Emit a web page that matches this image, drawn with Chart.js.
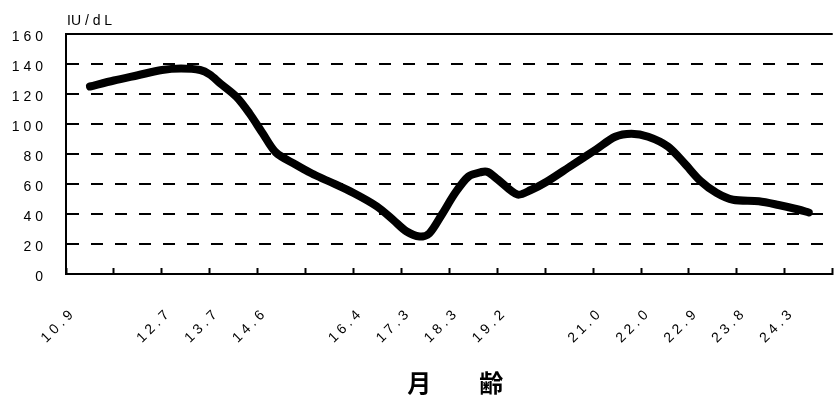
<!DOCTYPE html>
<html>
<head>
<meta charset="utf-8">
<script src="https://cdn.jsdelivr.net/npm/chart.js@4.4.1/dist/chart.umd.min.js"></script>
<style>
  html, body { margin: 0; padding: 0; overflow: hidden; background: #fff; }
  /* a bit wider than the window: the right end of the plot is cut off like in the original */
  .chart-box { position: relative; width: 860px; height: 397px; }
</style>
</head>
<body>
<div class="chart-box"><canvas id="iu-chart"></canvas></div>
<script>
// month-age slots on the x axis, blank slots carry no label
const monthLabels = ['10.9', '', '12.7', '13.7', '14.6', '', '16.4', '17.3', '18.3', '19.2', '', '21.0', '22.0', '22.9', '23.8', '24.3'];

// where each reading sits along the axis, in slot units (0.5 = middle of the first slot)
const slotPos = [0.5, 1.0, 1.5, 2.0, 2.4, 2.8, 3.0, 3.22, 3.56, 3.83,
                 4.1, 4.38, 4.79, 5.13, 5.47, 6.0, 6.49, 6.83, 7.1, 7.38,
                 7.58, 7.85, 8.12, 8.4, 8.67, 8.8, 9.01, 9.42, 9.7, 10.03,
                 10.51, 11.06, 11.46, 11.8, 12.15, 12.56, 12.9, 13.24, 13.58, 13.92,
                 14.46, 14.87, 15.28, 15.5];
const iuValues = [125, 129, 132.5, 136, 137, 136, 133, 127, 118, 107,
                  94, 81, 73, 67, 62, 54, 45, 36, 28.5, 25,
                  27, 40, 54, 65, 68, 68, 63, 53, 56, 61.5,
                  71.5, 83, 91.5, 93.5, 91.5, 85, 74, 62, 54, 49.5,
                  48.5, 46, 43, 41];

const yTicks = [0, 20, 40, 60, 80, 100, 120, 140, 160];

const UNIT_LABEL = 'IU / d L';
const AXIS_TITLE = '\u2002月　　齢';

//the original uses wide character spacing on the numbers
const spaced = s => String(s).split('').join(' ');

Chart.defaults.font.family = '"Liberation Sans", Arial, sans-serif';
Chart.defaults.color = '#000';

//unit text above the y axis
const unitLabel = {
    id: 'unitLabel',
    afterDraw(chart) {
        const ctx = chart.ctx;
        ctx.save();
        ctx.font = '14px "Liberation Sans", Arial, sans-serif';
        ctx.fillStyle = '#000';
        ctx.textBaseline = 'alphabetic';
        ctx.fillText(UNIT_LABEL, chart.chartArea.left + 1, 25);
        ctx.restore();
    }
};

const ctx = document.getElementById('iu-chart').getContext('2d');
const chart = new Chart(ctx, {
    type: 'line',
    data: {
        labels: monthLabels,
        datasets: [{
            data: slotPos.map((x, i) => ({ x: x, y: iuValues[i] })),
            xAxisID: 'xv',
            yAxisID: 'y',
            borderColor: '#000',
            borderWidth: 8,
            pointRadius: 0,
            tension: 0.3,
            borderCapStyle: 'round',
            borderJoinStyle: 'round',
            fill: false
        }]
    },
    options: {
        responsive: true,
        maintainAspectRatio: false,
        animation: false,
        layout: { padding: { left: 0, right: 11, top: 34, bottom: 0 } },
        plugins: {
            legend: { display: false },
            tooltip: { enabled: false }
        },
        scales: {
            x: {
                type: 'category',
                position: 'bottom',
                offset: true,
                grid: {
                    offset: true,
                    drawOnChartArea: false,
                    drawTicks: true,
                    tickLength: -6,   // tick marks point up into the plot
                    tickWidth: 2,
                    tickColor: '#000'
                },
                border: { display: true, color: '#000', width: 2 },
                ticks: {
                    autoSkip: false,
                    minRotation: 45,
                    maxRotation: 45,
                    padding: 39,
                    labelOffset: -19,
                    color: '#000',
                    font: { size: 14 },
                    callback: function (value) {
                        return spaced(this.getLabelForValue(value));
                    }
                },
                title: {
                    display: true,
                    text: AXIS_TITLE,
                    color: '#000',
                    font: { family: '"Noto Sans CJK JP", sans-serif', size: 24, weight: 'bold' },
                    padding: { top: 0, bottom: 0 }
                },
                afterFit: scale => { scale.height = 123; }
            },
            // hidden axis that places the readings inside the slots
            xv: {
                type: 'linear',
                display: false,
                min: 0,
                max: monthLabels.length
            },
            y: {
                min: 0,
                max: 160,
                afterBuildTicks: axis => { axis.ticks = yTicks.map(v => ({ value: v })); },
                grid: { color: '#000', lineWidth: 2, drawTicks: false },
                border: {
                    display: true,
                    color: '#000',
                    width: 2,
                    //top line is solid, the rest dashed
                    dash: c => (c.tick && c.tick.value !== 160) ? [12, 12] : []
                },
                ticks: {
                    padding: 23,
                    labelOffset: 3,
                    color: '#000',
                    font: { size: 14 },
                    callback: v => spaced(v)
                },
                afterFit: scale => { scale.width = 66; }
            }
        }
    },
    plugins: [unitLabel]
});
</script>
</body>
</html>
